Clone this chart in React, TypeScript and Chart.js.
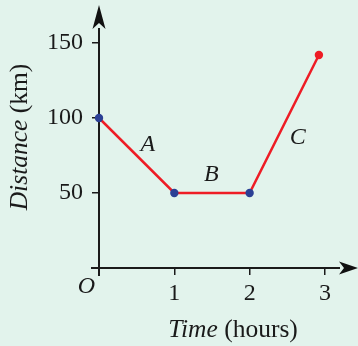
import React, { useEffect, useRef } from "react";
import { Chart, registerables } from "chart.js";

Chart.register(...registerables);

// ---- data ----
const timeHours = [0, 1, 2, 2.92];
const distanceKm = [100, 50, 50, 142];
const pointColors = ["#2b3f95", "#2b3f95", "#2b3f95", "#ee1c25"];
const xTickValues = [1, 2, 3];
const yTickValues = [50, 100, 150];
const segmentLabels = ["A", "B", "C"];
const segmentLabelX = [0.65, 1.49, 2.64];
const segmentLabelY = [78, 58, 83];
const xTitleItalic = "Time";
const xTitleNormal = " (hours)";
const yTitleItalic = "Distance";
const yTitleNormal = " (km)";
const originLabel = "O";

const SERIF = "'Liberation Serif', 'Times New Roman', serif";
const INK = "#1a1a1a";
const BG = "#e2f3ec";

const decorPlugin = {
  id: "decor",
  beforeDatasetsDraw(chart: any) {
    const { ctx, chartArea, scales } = chart;
    const xs = scales.x;
    const ys = scales.y;
    const x0 = xs.getPixelForValue(0);
    const y0 = ys.getPixelForValue(0);
    const top = chartArea.top;
    const right = chartArea.right;
    ctx.save();
    ctx.strokeStyle = INK;
    ctx.lineWidth = 2;
    ctx.beginPath();
    ctx.moveTo(x0, y0 + 8);
    ctx.lineTo(x0, top);
    ctx.moveTo(x0 - 8, y0);
    ctx.lineTo(right, y0);
    ctx.stroke();
    ctx.fillStyle = "#111";
    // up arrow
    ctx.beginPath();
    ctx.moveTo(x0, top - 23);
    ctx.lineTo(x0 + 6.5, top + 1);
    ctx.lineTo(x0, top - 5);
    ctx.lineTo(x0 - 6.5, top + 1);
    ctx.closePath();
    ctx.fill();
    // right arrow
    ctx.beginPath();
    ctx.moveTo(right + 18, y0);
    ctx.lineTo(right - 1, y0 - 6.5);
    ctx.lineTo(right + 4, y0);
    ctx.lineTo(right - 1, y0 + 6.5);
    ctx.closePath();
    ctx.fill();
    ctx.restore();
  },
  afterDraw(chart: any) {
    const { ctx, scales } = chart;
    const xs = scales.x;
    const ys = scales.y;
    const x0 = xs.getPixelForValue(0);
    const y0 = ys.getPixelForValue(0);
    ctx.save();
    ctx.fillStyle = INK;
    ctx.textBaseline = "alphabetic";

    // segment labels
    ctx.font = `italic 24px ${SERIF}`;
    ctx.textAlign = "center";
    segmentLabels.forEach((s, i) => {
      ctx.fillText(s, xs.getPixelForValue(segmentLabelX[i]), ys.getPixelForValue(segmentLabelY[i]));
    });

    // origin
    ctx.textAlign = "right";
    ctx.fillText(originLabel, x0 - 4, y0 + 25);

    // x title
    ctx.textAlign = "left";
    const fi = `italic 25.5px ${SERIF}`;
    const fn = `25.5px ${SERIF}`;
    ctx.font = fi;
    const w1 = ctx.measureText(xTitleItalic).width;
    ctx.font = fn;
    const w2 = ctx.measureText(xTitleNormal).width;
    const cx = 233;
    const bx = cx - (w1 + w2) / 2;
    ctx.font = fi;
    ctx.fillText(xTitleItalic, bx, 337);
    ctx.font = fn;
    ctx.fillText(xTitleNormal, bx + w1, 337);

    // y title
    ctx.font = fi;
    const v1 = ctx.measureText(yTitleItalic).width;
    ctx.font = fn;
    const v2 = ctx.measureText(yTitleNormal).width;
    ctx.translate(27, 137);
    ctx.rotate(-Math.PI / 2);
    const by = -(v1 + v2) / 2;
    ctx.font = fi;
    ctx.fillText(yTitleItalic, by, 0);
    ctx.font = fn;
    ctx.fillText(yTitleNormal, by + v1, 0);
    ctx.restore();
  },
};

export default function App() {
  const ref = useRef<HTMLCanvasElement | null>(null);
  useEffect(() => {
    if (!ref.current) return;
    const chart = new Chart(ref.current, {
      type: "line",
      data: {
        datasets: [
          {
            data: timeHours.map((t, i) => ({ x: t, y: distanceKm[i] })),
            borderColor: "#ee1c25",
            borderWidth: 2.5,
            pointRadius: 4.2,
            pointBackgroundColor: pointColors,
            pointBorderColor: pointColors,
            pointBorderWidth: 0,
            tension: 0,
            clip: false as any,
          },
        ],
      },
      options: {
        responsive: false,
        animation: false,
        layout: { padding: { top: 28, right: 18, left: 0, bottom: 0 } },
        plugins: { legend: { display: false }, tooltip: { enabled: false } },
        scales: {
          x: {
            type: "linear",
            min: 0,
            max: 3.2,
            border: { display: false },
            grid: {
              display: true,
              drawOnChartArea: false,
              drawTicks: true,
              tickLength: 7,
              color: INK,
              lineWidth: 1.5,
            },
            ticks: {
              color: INK,
              padding: 4,
              font: { family: SERIF, size: 24 },
              callback: (v: any) => String(v),
            },
            afterBuildTicks: (scale: any) => {
              scale.ticks = xTickValues.map((v) => ({ value: v }));
            },
            afterFit: (scale: any) => {
              scale.height = 78;
            },
          },
          y: {
            type: "linear",
            min: 0,
            max: 160,
            border: { display: false },
            grid: {
              display: true,
              drawOnChartArea: false,
              drawTicks: true,
              tickLength: 7,
              color: INK,
              lineWidth: 1.5,
            },
            ticks: {
              color: INK,
              padding: 9,
              font: { family: SERIF, size: 24 },
              callback: (v: any) => String(v),
            },
            afterBuildTicks: (scale: any) => {
              scale.ticks = yTickValues.map((v) => ({ value: v }));
            },
            afterFit: (scale: any) => {
              scale.width = 99;
            },
          },
        },
      },
      plugins: [decorPlugin],
    });
    return () => chart.destroy();
  }, []);
  return (
    <div
      style={{
        position: "fixed",
        left: 0,
        top: 0,
        width: 358,
        height: 346,
        background: BG,
        overflow: "hidden",
      }}
    >
      <canvas ref={ref} width={358} height={346} style={{ display: "block", width: 358, height: 346 }} />
    </div>
  );
}
